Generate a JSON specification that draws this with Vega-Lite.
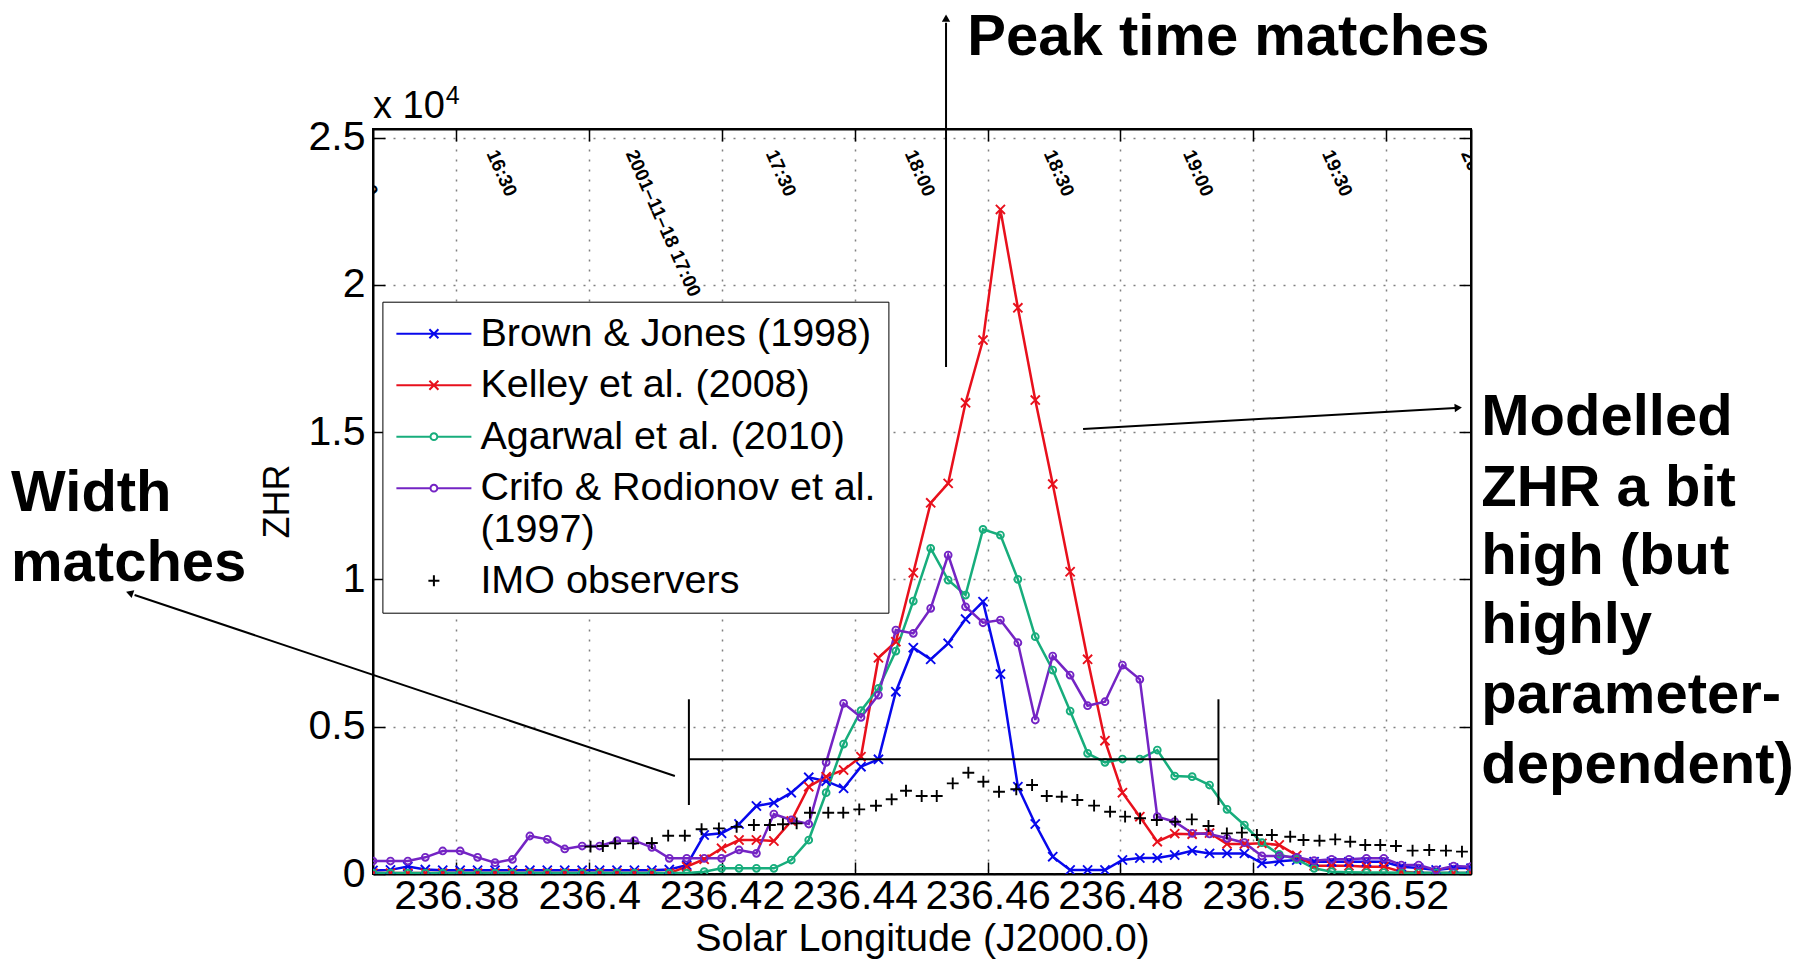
{
  "$schema": "https://vega.github.io/schema/vega-lite/v6.json",
  "width": 1098,
  "height": 745,
  "autosize": {"type": "none"},
  "padding": {"left": 373, "top": 129, "right": 339, "bottom": 85},
  "background": "white",
  "config": {
    "font": "Liberation Sans",
    "view": {"stroke": "black", "strokeWidth": 2}
  },
  "datasets": {
    "models": [
      {"lon":236.36743,"BJ":120,"K":30,"A":30,"CR":441},
      {"lon":236.37006,"BJ":140,"K":30,"A":30,"CR":441},
      {"lon":236.37268,"BJ":250,"K":30,"A":30,"CR":441},
      {"lon":236.37531,"BJ":150,"K":30,"A":30,"CR":566},
      {"lon":236.37793,"BJ":130,"K":30,"A":30,"CR":781},
      {"lon":236.38056,"BJ":130,"K":30,"A":30,"CR":781},
      {"lon":236.38318,"BJ":130,"K":30,"A":30,"CR":566},
      {"lon":236.38581,"BJ":130,"K":30,"A":30,"CR":385},
      {"lon":236.38843,"BJ":130,"K":30,"A":30,"CR":498},
      {"lon":236.39106,"BJ":130,"K":30,"A":30,"CR":1290},
      {"lon":236.39368,"BJ":130,"K":30,"A":30,"CR":1177},
      {"lon":236.39631,"BJ":130,"K":30,"A":30,"CR":849},
      {"lon":236.39893,"BJ":130,"K":30,"A":30,"CR":950},
      {"lon":236.40156,"BJ":130,"K":30,"A":30,"CR":950},
      {"lon":236.40418,"BJ":130,"K":30,"A":30,"CR":1131},
      {"lon":236.40681,"BJ":130,"K":30,"A":30,"CR":1131},
      {"lon":236.40943,"BJ":130,"K":30,"A":30,"CR":905},
      {"lon":236.41206,"BJ":150,"K":30,"A":30,"CR":532},
      {"lon":236.41468,"BJ":300,"K":248,"A":30,"CR":532},
      {"lon":236.41731,"BJ":1324,"K":500,"A":80,"CR":532},
      {"lon":236.41993,"BJ":1380,"K":872,"A":192,"CR":532},
      {"lon":236.42256,"BJ":1697,"K":1154,"A":192,"CR":815},
      {"lon":236.42518,"BJ":2308,"K":1154,"A":192,"CR":701},
      {"lon":236.42781,"BJ":2420,"K":1120,"A":192,"CR":2036},
      {"lon":236.43043,"BJ":2760,"K":1800,"A":475,"CR":1833},
      {"lon":236.43306,"BJ":3282,"K":2963,"A":1154,"CR":1697},
      {"lon":236.43568,"BJ":3150,"K":3303,"A":2760,"CR":3791},
      {"lon":236.43831,"BJ":2908,"K":3530,"A":4412,"CR":5793},
      {"lon":236.44093,"BJ":3643,"K":3981,"A":5543,"CR":5318},
      {"lon":236.44356,"BJ":3892,"K":7341,"A":6302,"CR":6075},
      {"lon":236.44618,"BJ":6188,"K":7885,"A":7569,"CR":8281},
      {"lon":236.44881,"BJ":7682,"K":10226,"A":9266,"CR":8169},
      {"lon":236.45143,"BJ":7286,"K":12600,"A":11054,"CR":9018},
      {"lon":236.45406,"BJ":7830,"K":13260,"A":9978,"CR":10827},
      {"lon":236.45668,"BJ":8655,"K":15996,"A":9469,"CR":9072},
      {"lon":236.45931,"BJ":9243,"K":18124,"A":11699,"CR":8529},
      {"lon":236.46193,"BJ":6788,"K":22560,"A":11506,"CR":8621},
      {"lon":236.46456,"BJ":2963,"K":19220,"A":10002,"CR":7851},
      {"lon":236.46718,"BJ":1697,"K":16088,"A":8054,"CR":5227},
      {"lon":236.46981,"BJ":588,"K":13237,"A":6924,"CR":7399},
      {"lon":236.47243,"BJ":136,"K":10260,"A":5532,"CR":6754},
      {"lon":236.47506,"BJ":136,"K":7287,"A":4096,"CR":5712},
      {"lon":236.47768,"BJ":136,"K":4525,"A":3791,"CR":5848},
      {"lon":236.48031,"BJ":475,"K":2760,"A":3903,"CR":7093},
      {"lon":236.48293,"BJ":543,"K":1946,"A":3903,"CR":6608},
      {"lon":236.48556,"BJ":543,"K":1097,"A":4209,"CR":1946},
      {"lon":236.48818,"BJ":645,"K":1370,"A":3326,"CR":1776},
      {"lon":236.49081,"BJ":792,"K":1350,"A":3303,"CR":1380},
      {"lon":236.49343,"BJ":700,"K":1390,"A":3021,"CR":1358},
      {"lon":236.49606,"BJ":700,"K":1020,"A":2195,"CR":1211},
      {"lon":236.49868,"BJ":700,"K":1020,"A":1663,"CR":1063},
      {"lon":236.50131,"BJ":362,"K":1040,"A":1063,"CR":611},
      {"lon":236.50393,"BJ":430,"K":985,"A":667,"CR":611},
      {"lon":236.50656,"BJ":475,"K":630,"A":498,"CR":566},
      {"lon":236.50918,"BJ":418,"K":280,"A":192,"CR":452},
      {"lon":236.51181,"BJ":418,"K":280,"A":80,"CR":498},
      {"lon":236.51443,"BJ":418,"K":280,"A":60,"CR":498},
      {"lon":236.51706,"BJ":418,"K":250,"A":50,"CR":532},
      {"lon":236.51968,"BJ":418,"K":250,"A":50,"CR":532},
      {"lon":236.52231,"BJ":248,"K":80,"A":40,"CR":305},
      {"lon":236.52493,"BJ":200,"K":40,"A":40,"CR":305},
      {"lon":236.52756,"BJ":140,"K":30,"A":40,"CR":136},
      {"lon":236.53018,"BJ":200,"K":30,"A":40,"CR":271},
      {"lon":236.53281,"BJ":200,"K":30,"A":40,"CR":248}
    ],
    "imo": [
      {"model":"IMO","lon":236.40019,"zhr":928},
      {"model":"IMO","lon":236.40205,"zhr":950},
      {"model":"IMO","lon":236.40390,"zhr":1041},
      {"model":"IMO","lon":236.40661,"zhr":1040},
      {"model":"IMO","lon":236.40943,"zhr":1050},
      {"model":"IMO","lon":236.41189,"zhr":1300},
      {"model":"IMO","lon":236.41440,"zhr":1300},
      {"model":"IMO","lon":236.41692,"zhr":1520},
      {"model":"IMO","lon":236.41953,"zhr":1550},
      {"model":"IMO","lon":236.42220,"zhr":1600},
      {"model":"IMO","lon":236.42480,"zhr":1663},
      {"model":"IMO","lon":236.42721,"zhr":1663},
      {"model":"IMO","lon":236.42917,"zhr":1690},
      {"model":"IMO","lon":236.43124,"zhr":1720},
      {"model":"IMO","lon":236.43324,"zhr":2081},
      {"model":"IMO","lon":236.43600,"zhr":2081},
      {"model":"IMO","lon":236.43826,"zhr":2081},
      {"model":"IMO","lon":236.44067,"zhr":2195},
      {"model":"IMO","lon":236.44319,"zhr":2319},
      {"model":"IMO","lon":236.44555,"zhr":2535},
      {"model":"IMO","lon":236.44771,"zhr":2827},
      {"model":"IMO","lon":236.45007,"zhr":2647},
      {"model":"IMO","lon":236.45234,"zhr":2647},
      {"model":"IMO","lon":236.45475,"zhr":3078},
      {"model":"IMO","lon":236.45710,"zhr":3439},
      {"model":"IMO","lon":236.45936,"zhr":3133},
      {"model":"IMO","lon":236.46172,"zhr":2793},
      {"model":"IMO","lon":236.46432,"zhr":2875},
      {"model":"IMO","lon":236.46670,"zhr":3021},
      {"model":"IMO","lon":236.46891,"zhr":2647},
      {"model":"IMO","lon":236.47117,"zhr":2624},
      {"model":"IMO","lon":236.47352,"zhr":2512},
      {"model":"IMO","lon":236.47604,"zhr":2320},
      {"model":"IMO","lon":236.47845,"zhr":2115},
      {"model":"IMO","lon":236.48071,"zhr":1946},
      {"model":"IMO","lon":236.48297,"zhr":1890},
      {"model":"IMO","lon":236.48549,"zhr":1833},
      {"model":"IMO","lon":236.48825,"zhr":1776},
      {"model":"IMO","lon":236.49076,"zhr":1856},
      {"model":"IMO","lon":236.49327,"zhr":1629},
      {"model":"IMO","lon":236.49604,"zhr":1380},
      {"model":"IMO","lon":236.49830,"zhr":1403},
      {"model":"IMO","lon":236.50056,"zhr":1324},
      {"model":"IMO","lon":236.50282,"zhr":1324},
      {"model":"IMO","lon":236.50558,"zhr":1267},
      {"model":"IMO","lon":236.50758,"zhr":1154},
      {"model":"IMO","lon":236.50999,"zhr":1131},
      {"model":"IMO","lon":236.51236,"zhr":1177},
      {"model":"IMO","lon":236.51462,"zhr":1097},
      {"model":"IMO","lon":236.51688,"zhr":984},
      {"model":"IMO","lon":236.51914,"zhr":984},
      {"model":"IMO","lon":236.52151,"zhr":950},
      {"model":"IMO","lon":236.52401,"zhr":792},
      {"model":"IMO","lon":236.52652,"zhr":815},
      {"model":"IMO","lon":236.52904,"zhr":792},
      {"model":"IMO","lon":236.53145,"zhr":758}
    ],
    "times": [
      {"lon":236.36437,"zhr":24543,"label":"16:00"},
      {"lon":236.38532,"zhr":24543,"label":"16:30"},
      {"lon":236.40627,"zhr":24543,"label":"2001–11–18 17:00"},
      {"lon":236.42737,"zhr":24543,"label":"17:30"},
      {"lon":236.44831,"zhr":24543,"label":"18:00"},
      {"lon":236.46926,"zhr":24543,"label":"18:30"},
      {"lon":236.49021,"zhr":24543,"label":"19:00"},
      {"lon":236.51116,"zhr":24543,"label":"19:30"},
      {"lon":236.53210,"zhr":24543,"label":"20:00"}
    ],
    "notes": [
      {"lon":236.45695,"zhr":27788,"label":"Peak time matches"},
      {"lon":236.31291,"zhr":12309,"label":"Width"},
      {"lon":236.31291,"zhr":9960,"label":"matches"},
      {"lon":236.53436,"zhr":14902,"label":"Modelled"},
      {"lon":236.53436,"zhr":12506,"label":"ZHR a bit"},
      {"lon":236.53436,"zhr":10194,"label":"high (but"},
      {"lon":236.53436,"zhr":7842,"label":"highly"},
      {"lon":236.53436,"zhr":5452,"label":"parameter-"},
      {"lon":236.53436,"zhr":3103,"label":"dependent)"}
    ],
    "segments": [
      {"lon":236.45374,"zhr":17211,"lon2":236.45374,"zhr2":28900},
      {"lon":236.41290,"zhr":3327,"lon2":236.33152,"zhr2":9471},
      {"lon":236.47438,"zhr":15106,"lon2":236.53044,"zhr2":15819},
      {"lon":236.41501,"zhr":3894,"lon2":236.49477,"zhr2":3894},
      {"lon":236.41501,"zhr":5931,"lon2":236.41501,"zhr2":2342},
      {"lon":236.49477,"zhr":5931,"lon2":236.49477,"zhr2":2342}
    ],
    "heads": [
      {"lon":236.45374,"zhr":29050,"angle":0},
      {"lon":236.33076,"zhr":9539,"angle":-71.4},
      {"lon":236.53089,"zhr":15825,"angle":86.8}
    ],
    "exponent": [
      {"lon":236.36743,"zhr":25663,"label":"x 10","sup":"4","lon2":236.37839,"zhr2":26140}
    ]
  },
  "layer": [
    {
      "data": {"name": "models"},
      "transform": [{"fold": ["BJ", "K", "A", "CR"], "as": ["model", "zhr"]}],
      "mark": {"type": "line", "strokeWidth": 2.5, "clip": true},
      "encoding": {
        "x": {
          "field": "lon", "type": "quantitative",
          "scale": {"domain": [236.36743, 236.53281], "nice": false, "zero": false},
          "axis": {
            "orient": "bottom",
            "values": [236.38, 236.4, 236.42, 236.44, 236.46, 236.48, 236.5, 236.52],
            "format": "~g",
            "labelFontSize": 41, "labelColor": "black", "labelPadding": 14,
            "labelOverlap": false, "labelFlush": false,
            "tickSize": -12, "tickColor": "black", "tickWidth": 1.5,
            "domainColor": "black", "domainWidth": 2,
            "grid": true, "gridColor": "#808080", "gridDash": [2, 8], "gridWidth": 1.5,
            "title": "Solar Longitude (J2000.0)", "titleFontSize": 39.5, "titleFontWeight": "normal",
            "titleColor": "black", "titleY": 76, "titleBaseline": "alphabetic"
          }
        },
        "y": {
          "field": "zhr", "type": "quantitative",
          "scale": {"domain": [0, 25290], "nice": false, "zero": false},
          "axis": {
            "orient": "left",
            "values": [0, 5000, 10000, 15000, 20000, 25000],
            "labelExpr": "datum.value / 10000",
            "labelFontSize": 41, "labelColor": "black", "labelPadding": 20,
            "labelOverlap": false, "labelFlush": false,
            "tickSize": -12, "tickColor": "black", "tickWidth": 1.5,
            "domainColor": "black", "domainWidth": 2,
            "grid": true, "gridColor": "#808080", "gridDash": [2, 8], "gridWidth": 1.5,
            "title": "ZHR", "titleFontSize": 36, "titleFontWeight": "normal", "titleColor": "black",
            "titleX": -96, "titleY": 372, "titleAngle": 270, "titleAlign": "center", "titleBaseline": "middle"
          }
        },
        "color": {
          "field": "model", "type": "nominal",
          "scale": {"domain": ["BJ", "K", "A", "CR", "IMO"], "range": ["#0808ec", "#e8101c", "#17ad7c", "#7424c4", "#000000"]},
          "legend": {
            "orient": "none", "legendX": 9.4, "legendY": 172.7,
            "title": null,
            "strokeColor": "black", "fillColor": "white", "padding": 12,
            "labelFontSize": 39.5, "labelColor": "black", "labelLimit": 1000,
            "labelOffset": 26.5, "symbolOffset": 19.5,
            "rowPadding": 11.5, "symbolSize": 1444, "symbolStrokeWidth": 2,
            "labelExpr": "datum.value === 'BJ' ? 'Brown & Jones (1998)' : datum.value === 'K' ? 'Kelley et al. (2008)' : datum.value === 'A' ? 'Agarwal et al. (2010)' : datum.value === 'CR' ? ['Crifo & Rodionov et al.', ' (1997)'] : 'IMO observers'"
          }
        }
      }
    },
    {
      "data": {"name": "models"},
      "transform": [{"fold": ["BJ", "K"], "as": ["model", "zhr"]}],
      "mark": {"type": "point", "shape": "M-0.8,-0.8L0.8,0.8M-0.8,0.8L0.8,-0.8", "filled": false, "strokeWidth": 1.9, "size": 130, "opacity": 1, "clip": true},
      "encoding": {
        "x": {"field": "lon", "type": "quantitative", "axis": null},
        "y": {"field": "zhr", "type": "quantitative", "axis": null},
        "color": {"field": "model", "type": "nominal"}
      }
    },
    {
      "data": {"name": "models"},
      "transform": [{"fold": ["A", "CR"], "as": ["model", "zhr"]}],
      "mark": {"type": "point", "shape": "circle", "filled": false, "strokeWidth": 1.9, "size": 47, "opacity": 1, "clip": true},
      "encoding": {
        "x": {"field": "lon", "type": "quantitative", "axis": null},
        "y": {"field": "zhr", "type": "quantitative", "axis": null},
        "color": {"field": "model", "type": "nominal"}
      }
    },
    {
      "data": {"name": "imo"},
      "mark": {"type": "point", "shape": "M-1,0H1M0,-1V1", "filled": false, "strokeWidth": 1.9, "size": 140, "opacity": 1, "clip": true},
      "encoding": {
        "x": {
          "field": "lon", "type": "quantitative",
          "axis": {"orient": "top", "labels": false, "grid": false, "title": null, "values": [236.38, 236.4, 236.42, 236.44, 236.46, 236.48, 236.5, 236.52], "tickSize": -12, "tickColor": "black", "tickWidth": 1.5, "domainColor": "black", "domainWidth": 2}
        },
        "y": {
          "field": "zhr", "type": "quantitative",
          "axis": {"orient": "right", "labels": false, "grid": false, "title": null, "values": [0, 5000, 10000, 15000, 20000, 25000], "tickSize": -12, "tickColor": "black", "tickWidth": 1.5, "domainColor": "black", "domainWidth": 2}
        },
        "color": {"field": "model", "type": "nominal"}
      }
    },
    {
      "data": {"name": "imo"},
      "transform": [{"filter": "datum.zhr < 0"}],
      "mark": {"type": "point", "filled": false, "strokeWidth": 2, "opacity": 1},
      "encoding": {
        "x": {"field": "lon", "type": "quantitative", "axis": null},
        "y": {"field": "zhr", "type": "quantitative", "axis": null},
        "color": {"field": "model", "type": "nominal"},
        "shape": {
          "field": "model", "type": "nominal",
          "scale": {
            "domain": ["BJ", "K", "A", "CR", "IMO"],
            "range": [
              "M-1.974,0H1.974M-0.237,-0.237L0.237,0.237M-0.237,0.237L0.237,-0.237",
              "M-1.974,0H1.974M-0.237,-0.237L0.237,0.237M-0.237,0.237L0.237,-0.237",
              "M-1.974,0H-0.179M0.179,0H1.974M0.179,0A0.179,0.179 0 1,1 -0.179,0A0.179,0.179 0 1,1 0.179,0",
              "M-1.974,0H-0.179M0.179,0H1.974M0.179,0A0.179,0.179 0 1,1 -0.179,0A0.179,0.179 0 1,1 0.179,0",
              "M-0.29,0H0.29M0,-0.29V0.29"
            ]
          }
        }
      }
    },
    {
      "data": {"name": "times"},
      "mark": {"type": "text", "angle": 66, "align": "left", "baseline": "middle", "fontSize": 19, "fontWeight": "bold", "color": "black", "clip": true},
      "encoding": {
        "x": {"field": "lon", "type": "quantitative", "axis": null},
        "y": {"field": "zhr", "type": "quantitative", "axis": null},
        "text": {"field": "label"}
      }
    },
    {
      "data": {"name": "notes"},
      "mark": {"type": "text", "align": "left", "baseline": "alphabetic", "fontSize": 58, "fontWeight": "bold", "color": "black"},
      "encoding": {
        "x": {"field": "lon", "type": "quantitative", "axis": null},
        "y": {"field": "zhr", "type": "quantitative", "axis": null},
        "text": {"field": "label"}
      }
    },
    {
      "data": {"name": "segments"},
      "mark": {"type": "rule", "color": "black", "strokeWidth": 2},
      "encoding": {
        "x": {"field": "lon", "type": "quantitative", "axis": null},
        "y": {"field": "zhr", "type": "quantitative", "axis": null},
        "x2": {"field": "lon2"},
        "y2": {"field": "zhr2"}
      }
    },
    {
      "data": {"name": "heads"},
      "mark": {"type": "point", "shape": "triangle-up", "filled": true, "color": "black", "size": 70, "opacity": 1},
      "encoding": {
        "x": {"field": "lon", "type": "quantitative", "axis": null},
        "y": {"field": "zhr", "type": "quantitative", "axis": null},
        "angle": {"field": "angle", "type": "quantitative", "scale": null}
      }
    },
    {
      "data": {"name": "exponent"},
      "mark": {"type": "text", "align": "left", "baseline": "alphabetic", "fontSize": 38, "color": "black"},
      "encoding": {
        "x": {"field": "lon", "type": "quantitative", "axis": null},
        "y": {"field": "zhr", "type": "quantitative", "axis": null},
        "text": {"field": "label"}
      }
    },
    {
      "data": {"name": "exponent"},
      "mark": {"type": "text", "align": "left", "baseline": "alphabetic", "fontSize": 25, "color": "black"},
      "encoding": {
        "x": {"field": "lon2", "type": "quantitative", "axis": null},
        "y": {"field": "zhr2", "type": "quantitative", "axis": null},
        "text": {"field": "sup"}
      }
    }
  ],
  "resolve": {"axis": {"x": "independent", "y": "independent"}}
}
